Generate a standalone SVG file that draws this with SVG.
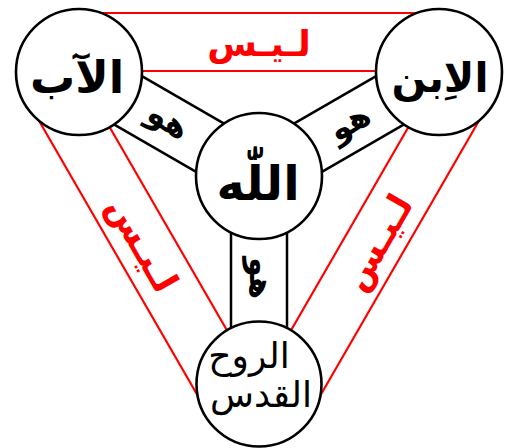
<svg xmlns="http://www.w3.org/2000/svg" width="511" height="448" viewBox="0 0 511 448">
<style>
.red{stroke:#ff0000;stroke-width:2.2;fill:none}
.blk{stroke:#000;stroke-width:2.5;fill:none}
.node{fill:#fff;stroke:#000;stroke-width:2.6}
.t{font-family:"DejaVu Sans",sans-serif;text-anchor:middle;fill:#000}
.b{font-weight:bold}
.rt{font-family:"DejaVu Sans",sans-serif;text-anchor:middle;fill:#ff0000;font-weight:bold;font-size:36px}
.ht{font-family:"DejaVu Sans",sans-serif;text-anchor:middle;fill:#000;font-weight:bold;font-size:32px}
</style>
<g id="connectors">
<line class="red" x1="79" y1="13" x2="439" y2="13"/>
<line class="red" x1="79" y1="71" x2="439" y2="71"/>
<line class="red" x1="27.9" y1="101.5" x2="207.9" y2="413.3"/>
<line class="red" x1="78.1" y1="72.5" x2="258.1" y2="384.3"/>
<line class="red" x1="490.1" y1="101.5" x2="310.1" y2="413.3"/>
<line class="red" x1="439.9" y1="72.5" x2="259.9" y2="384.3"/>
<line class="blk" x1="65" y1="96.2" x2="245" y2="200.2"/>
<line class="blk" x1="93" y1="47.8" x2="273" y2="151.8"/>
<line class="blk" x1="425" y1="47.8" x2="245" y2="151.8"/>
<line class="blk" x1="453" y1="96.2" x2="273" y2="200.2"/>
<line class="blk" x1="231" y1="176" x2="231" y2="384"/>
<line class="blk" x1="287" y1="176" x2="287" y2="384"/>
<text class="rt" x="259" y="56">لـيـس</text>
<text class="rt" transform="translate(143,244) rotate(60)" x="0" y="13">لـيـس</text>
<text class="rt" transform="translate(377,242) rotate(-60)" x="0" y="13">لـيـس</text>
<text class="ht" transform="translate(167,123) rotate(30)" x="0" y="8">هو</text>
<text class="ht" transform="translate(351,125) rotate(-30)" x="0" y="8">هو</text>
<text class="ht" transform="translate(258,278) rotate(90)" x="0" y="8">هو</text>
</g>
<g id="father">
<circle class="node" cx="79" cy="72" r="63"/>
<text class="t b" x="77" y="93" font-size="45">الآب</text>
</g>
<g id="son">
<circle class="node" cx="439" cy="72" r="63"/>
<text class="t b" x="440" y="92" font-size="41">الاِبن</text>
</g>
<g id="god">
<circle class="node" cx="259" cy="176" r="63"/>
<text class="t b" x="258" y="200" font-size="48">اللّٰه</text>
</g>
<g id="spirit">
<circle class="node" cx="259" cy="384" r="62.5"/>
<text class="t" x="249" y="368" font-size="36">الروح</text>
<text class="t" x="261" y="407" font-size="36">القدس</text>
</g>
</svg>
